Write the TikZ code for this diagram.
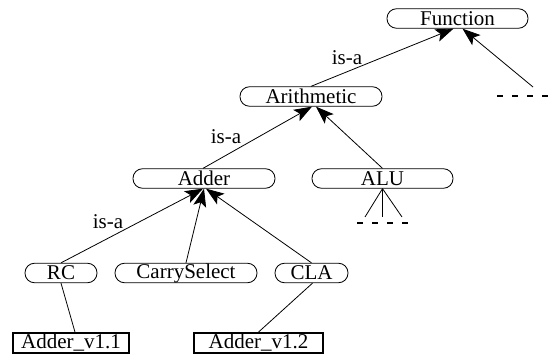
\documentclass[tikz,border=0pt]{standalone}
\usepackage{fontspec}
\setmainfont{Liberation Serif}
\usetikzlibrary{arrows.meta}
\begin{document}
\begin{tikzpicture}[x=1pt,y=-1pt,
  cls/.style={draw,line width=0.8pt,rounded corners=9.5pt,inner sep=0pt,minimum height=19.5pt,font=\fontsize{21}{22}\selectfont},
  inst/.style={draw,line width=1.8pt,inner sep=0pt,minimum height=20pt,font=\fontsize{21}{22}\selectfont},
  arr/.style={line width=0.8pt,-{Stealth[length=18pt,width=13pt,inset=4pt]}},
  ln/.style={line width=0.8pt},
  dsh/.style={line width=2.4pt,dash pattern=on 6pt off 9pt},
  lbl/.style={font=\fontsize{21}{22}\selectfont,inner sep=0pt}]
\useasboundingbox (0,0) rectangle (552,358);
\node[cls,minimum width=141pt] (F) at (457.5,18.5) {Function};
\node[cls,minimum width=142pt] (Ar) at (311,96.5) {Arithmetic};
\node[cls,minimum width=142pt] (Ad) at (204,178.5) {Adder};
\node[cls,minimum width=141pt] (ALU) at (382.5,178.5) {ALU};
\node[cls,minimum width=72pt] (RC) at (61,273) {RC};
\node[cls,minimum width=142pt] (CS) at (186,273) {CarrySelect};
\node[cls,minimum width=73pt] (CLA) at (311.5,273) {CLA};
\node[inst,minimum width=116pt] (V1) at (71,343) {Adder\_v1.1};
\node[inst,minimum width=129pt] (V2) at (258.5,343) {Adder\_v1.2};
\coordinate (fd) at (533,87);
\coordinate (a1) at (365,217);
\coordinate (a2) at (382.5,217);
\coordinate (a3) at (402,217);
\coordinate (d1s) at (497,96);
\coordinate (d1e) at (555,96);
\coordinate (d2s) at (357,223);
\coordinate (d2e) at (412,223);
\draw[arr] (Ar.north) -- ([xshift=-4pt]F.south);
\draw[arr] (fd) -- ([xshift=5pt]F.south);
\draw[arr] ([xshift=-1pt]Ad.north) -- ([xshift=1pt]Ar.south);
\draw[arr] (ALU.north) -- ([xshift=5pt]Ar.south);
\draw[arr] (RC.north) -- ([xshift=-1pt]Ad.south);
\draw[arr] (CS.north) -- (Ad.south);
\draw[arr] (CLA.north) -- ([xshift=2pt]Ad.south);
\draw[ln] (RC.south) -- ([xshift=4pt]V1.north);
\draw[ln] ([xshift=1pt]CLA.south) -- (V2.north);
\draw[ln] (ALU.south) -- (a1);
\draw[line width=1.6pt] (ALU.south) -- (a2);
\draw[ln] (ALU.south) -- (a3);
\draw[dsh] (d1s) -- (d1e);
\draw[dsh] (d2s) -- (d2e);
\node[lbl] (l1) at (347,58) {is-a};
\node[lbl] (l2) at (226,137) {is-a};
\node[lbl] (l3) at (108,222) {is-a};
\end{tikzpicture}
\end{document}
